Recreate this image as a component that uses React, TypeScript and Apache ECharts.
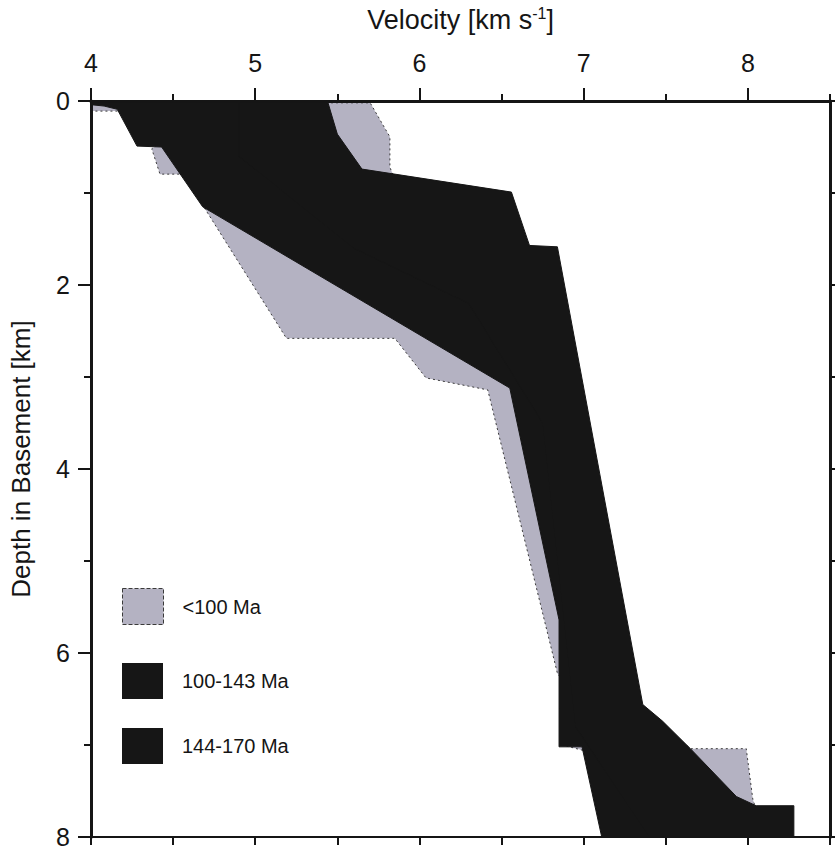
import React, { useEffect, useRef } from "react";
import * as echarts from "echarts";

// ---- axis ticks / labels ----
const velocityMajor = [4, 5, 6, 7, 8];
const velocityMinor = [4.5, 5.5, 6.5, 7.5, 8.5];
const velocityBottom = [4, 4.5, 5, 5.5, 6, 6.5, 7, 7.5, 8, 8.5];
const depthMajor = [0, 2, 4, 6, 8];
const depthMinor = [1, 3, 5, 7];
const depthRight = [0, 1, 2, 3, 4, 5, 6, 7, 8];

// ---- series names ----
const seriesNames = ["<100 Ma", "100-143 Ma", "144-170 Ma"];

// ---- envelopes: [velocity km/s, depth km] ----
const envelopeUnder100: [number, number][] = [
  [4.0, 0.02], [5.7, 0.02], [5.82, 0.39], [5.82, 0.72], [5.85, 0.85], [6.4, 1.05],
  [6.6, 1.5], [6.8, 1.7], [7.3, 6.5], [7.65, 7.04], [7.99, 7.04], [8.03, 7.59],
  [8.05, 7.7], [8.0, 8.0], [7.12, 8.0], [7.0, 7.06], [6.87, 7.0], [6.87, 6.3],
  [6.84, 6.22], [6.416, 3.14], [6.3, 3.1], [6.04, 3.01], [5.85, 2.58], [5.19, 2.58],
  [4.69, 1.16], [4.55, 0.795], [4.42, 0.795], [4.37, 0.52], [4.4, 0.48], [4.25, 0.3],
  [4.17, 0.11], [4.0, 0.11],
];

const envelope100to143: [number, number][] = [
  [4.0, 0.0], [5.2, 0.0], [5.4, 0.5], [5.6, 0.85], [6.2, 1.05], [6.6, 1.6],
  [7.1, 6.6], [7.5, 7.1], [7.8, 8.0], [7.11, 8.0], [6.99, 7.02], [6.85, 7.02],
  [6.85, 5.64], [6.55, 3.12], [4.68, 1.15], [4.43, 0.5], [4.28, 0.49], [4.16, 0.09],
  [4.08, 0.055], [4.0, 0.04],
];

const envelope144to170: [number, number][] = [
  [4.9, 0.0], [5.44, 0.0], [5.5, 0.36], [5.65, 0.74], [6.56, 0.99], [6.67, 1.57],
  [6.84, 1.585], [7.36, 6.56], [7.48, 6.74], [7.65, 7.04], [7.93, 7.56], [8.05, 7.66],
  [8.28, 7.66], [8.28, 8.0], [7.4, 8.0], [6.95, 6.8], [6.75, 3.5], [6.3, 2.2],
  [5.6, 1.6], [4.9, 0.6],
];

const FONT = "'Liberation Sans', Arial, Helvetica, sans-serif";
const INK = "#151515";
const GRAY = "#b4b2c2";
const BLACK = "#161616";

function envelopeSeries(
  name: string,
  pts: [number, number][],
  fill: string,
  stroke: string,
  dash: number[] | null
) {
  return {
    type: "custom",
    name,
    coordinateSystem: "cartesian2d",
    xAxisIndex: 0,
    yAxisIndex: 0,
    data: pts,
    encode: { x: 0, y: 1 },
    itemStyle: { color: fill },
    silent: true,
    clip: true,
    renderItem: (params: any, api: any) => {
      if (params.dataIndex !== 0) return null;
      const points = pts.map((p) => api.coord(p));
      return {
        type: "polygon",
        shape: { points },
        style: {
          fill,
          stroke,
          lineWidth: 1,
          lineDash: dash || undefined,
        },
      };
    },
  };
}

export default function App() {
  const ref = useRef<HTMLDivElement>(null);

  useEffect(() => {
    document.body.style.margin = "0";
    if (!ref.current) return;
    const chart = echarts.init(ref.current, null, { renderer: "svg" });

    const legendTops = [588, 663, 728];
    const axisLine = (w: number) => ({
      show: true,
      onZero: false,
      lineStyle: { color: INK, width: w },
    });

    chart.setOption({
      animation: false,
      backgroundColor: "#ffffff",
      grid: { left: 91, right: 5, top: 97, bottom: 13, containLabel: false },
      xAxis: [
        {
          type: "value",
          position: "top",
          min: 4,
          max: 8.5,
          interval: 1,
          z: 10,
          axisLine: axisLine(3),
          axisTick: {
            show: true,
            customValues: velocityMajor,
            length: 13,
            lineStyle: { color: INK, width: 2 },
          },
          axisLabel: {
            show: true,
            customValues: velocityMajor,
            fontSize: 25,
            fontFamily: FONT,
            color: INK,
            margin: 26,
          },
          splitLine: { show: false },
          name: "{n|Velocity [km s}{s|-1}{n|]}",
          nameLocation: "middle",
          nameGap: 66,
          nameTextStyle: {
            fontFamily: FONT,
            color: INK,
            rich: {
              n: { fontSize: 27, fontFamily: FONT, color: INK, lineHeight: 30 },
              s: { fontSize: 16, fontFamily: FONT, color: INK, verticalAlign: "top", lineHeight: 30 },
            },
          },
        },
        {
          type: "value",
          position: "top",
          min: 4,
          max: 8.5,
          interval: 0.5,
          z: 10,
          axisLine: { show: false },
          axisTick: {
            show: true,
            customValues: velocityMinor,
            length: 7,
            lineStyle: { color: INK, width: 2 },
          },
          axisLabel: { show: false },
          splitLine: { show: false },
        },
        {
          type: "value",
          position: "bottom",
          min: 4,
          max: 8.5,
          interval: 0.5,
          z: 10,
          axisLine: axisLine(2),
          axisTick: {
            show: true,
            customValues: velocityBottom,
            length: 8,
            lineStyle: { color: INK, width: 2 },
          },
          axisLabel: { show: false },
          splitLine: { show: false },
        },
      ],
      yAxis: [
        {
          type: "value",
          position: "left",
          inverse: true,
          min: 0,
          max: 8,
          interval: 2,
          z: 10,
          axisLine: axisLine(3),
          axisTick: {
            show: true,
            customValues: depthMajor,
            length: 13,
            lineStyle: { color: INK, width: 2 },
          },
          axisLabel: {
            show: true,
            customValues: depthMajor,
            fontSize: 25,
            fontFamily: FONT,
            color: INK,
            margin: 21,
          },
          splitLine: { show: false },
          name: "Depth in Basement [km]",
          nameLocation: "middle",
          nameRotate: 90,
          nameGap: 57,
          nameTextStyle: { fontSize: 26, fontFamily: FONT, color: INK, padding: [0, 0, 0, 20] },
        },
        {
          type: "value",
          position: "left",
          inverse: true,
          min: 0,
          max: 8,
          interval: 1,
          z: 10,
          axisLine: { show: false },
          axisTick: {
            show: true,
            customValues: depthMinor,
            length: 7,
            lineStyle: { color: INK, width: 2 },
          },
          axisLabel: { show: false },
          splitLine: { show: false },
        },
        {
          type: "value",
          position: "right",
          inverse: true,
          min: 0,
          max: 8,
          interval: 1,
          z: 10,
          axisLine: axisLine(3),
          axisTick: {
            show: true,
            customValues: depthRight,
            length: 7,
            lineStyle: { color: INK, width: 2 },
          },
          axisLabel: { show: false },
          splitLine: { show: false },
        },
      ],
      legend: seriesNames.map((n, i) => ({
        data: [
          i === 0
            ? { name: n, itemStyle: { borderColor: "#3a3a3a", borderWidth: 1, borderType: "dashed" } }
            : { name: n },
        ],
        left: 122,
        top: legendTops[i],
        padding: 0,
        orient: "vertical",
        icon: "rect",
        itemWidth: 41,
        itemHeight: 36,
        selectedMode: false,
        textStyle: { fontSize: 20, fontFamily: FONT, color: INK, padding: [0, 0, 0, 14] },
      })),
      series: [
        envelopeSeries(seriesNames[0], envelopeUnder100, GRAY, "#3a3a3a", [2, 3]),
        envelopeSeries(seriesNames[1], envelope100to143, BLACK, BLACK, null),
        envelopeSeries(seriesNames[2], envelope144to170, BLACK, BLACK, null),
      ],
    });

    return () => chart.dispose();
  }, []);

  return <div ref={ref} style={{ width: 835, height: 850 }} />;
}
